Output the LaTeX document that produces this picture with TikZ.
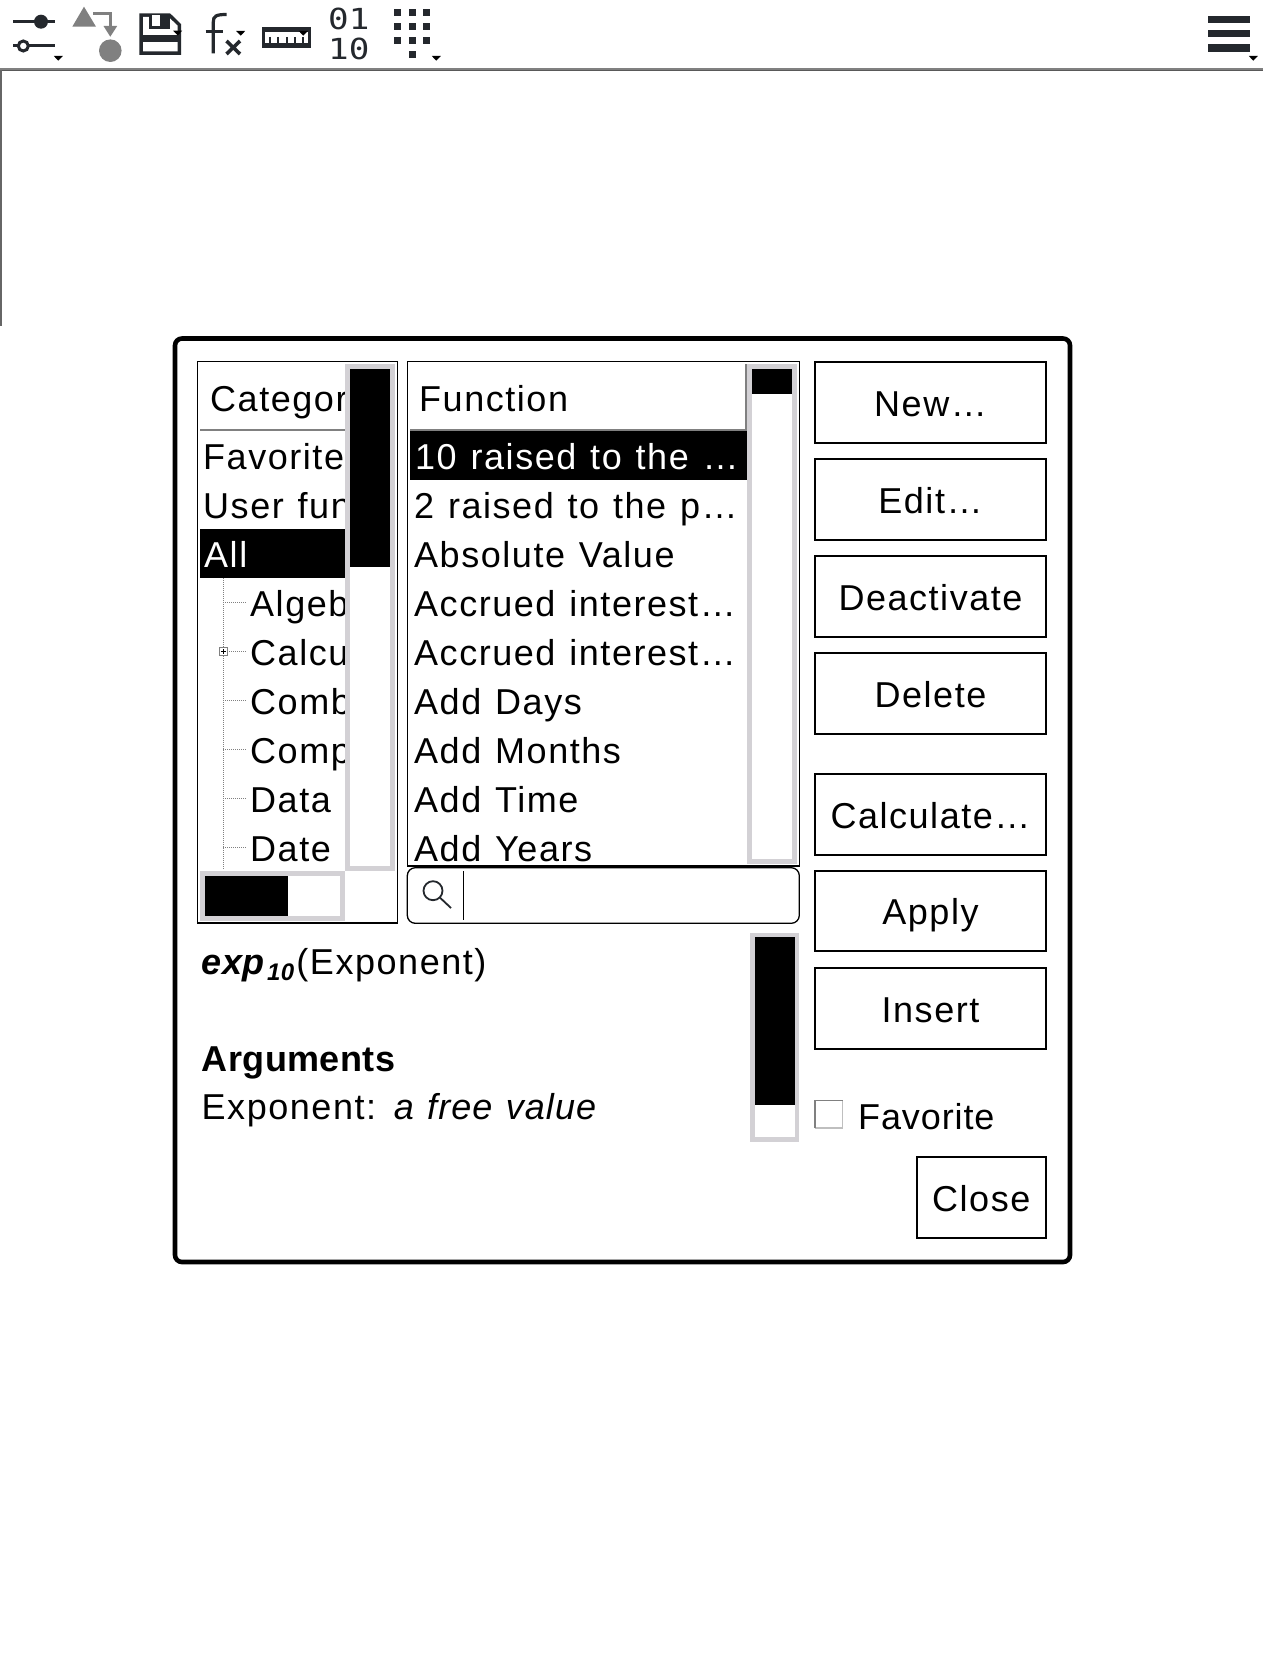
\documentclass[tikz,border=0pt]{standalone}
\usepackage{fontspec}
\setmainfont[LetterSpace=4.3,WordSpace=1.2]{Liberation Sans}
\newfontfamily\monoicon{DejaVu Sans Mono}
\usetikzlibrary{calc}
\definecolor{barGray}{HTML}{D3D1D5}
\definecolor{iconDark}{HTML}{24282D}
\definecolor{iconGray}{HTML}{808080}
\tikzset{
  rowtext/.style={anchor=base west,inner sep=0pt,font=\fontsize{36}{43}\selectfont},
  btnbox/.style={draw=black,line width=2pt,fill=white,minimum width=231pt,minimum height=80.6pt,inner sep=0pt,
    text height=27.8pt,text depth=0pt,font=\fontsize{36}{43}\selectfont},
  panelbox/.style={draw=black,line width=1.3pt},
  treeline/.style={draw=iconGray,line width=1pt,dash pattern=on 1pt off 1pt},
  icondark/.style={draw=iconDark,line width=3pt},
  icongray/.style={draw=iconGray,line width=3pt},
  bitstext/.style={anchor=base west,inner sep=0pt,text=iconDark,font=\monoicon\fontsize{29}{32}\selectfont}
}
\newcommand{\boldtight}{\addfontfeature{LetterSpace=1.3}}
\newcommand{\slanttight}{\addfontfeature{LetterSpace=3}}
\begin{document}
\begin{tikzpicture}[x=1pt,y=-1pt]
    \useasboundingbox (0,0) rectangle (1264,1680);
    \fill[white] (0,0) rectangle (1264,1680); % 白色背景

    % 工具栏
    \draw[iconGray,line width=2pt] (0,69.5) -- (1263,69.5); % 工具栏下边线
    \draw[black!65,line width=1pt] (0,71) -- (1263,71);
    \draw[black!60,line width=1.5pt] (1,70) -- (1,326); % 左边线
    \draw[icondark] (13,21.7) -- (55,21.7); % 滑块图标
    \fill[iconDark] (41,21.7) circle (7);
    \draw[icondark] (13,46) -- (55,46);
    \draw[icondark,fill=white] (23.3,46) circle (5);
    \fill[iconGray] (84,6.7) -- (96,26.7) -- (72.3,26.7) -- cycle; % 三角与圆图标
    \draw[icongray] (93.3,13.5) -- (110.3,13.5) -- (110.3,28);
    \fill[iconGray] (103.5,26) -- (117.2,26) -- (110.3,36.7) -- cycle;
    \fill[iconGray] (110.3,50.7) circle (11.3);
    \fill[iconDark] (139.3,13.3) -- (170,13.3) -- (181,24) -- (181,55) -- (139.3,55) -- cycle; % 保存图标
    \fill[white] (143,17) -- (168.5,17) -- (177.5,25.5) -- (177.5,51.5) -- (143,51.5) -- cycle;
    \fill[iconDark] (149,15) rectangle (170,29);
    \fill[white] (152,15) rectangle (160,26);
    \fill[iconDark] (143,35) rectangle (177.5,41.7);
    \fill[white] (149,41.7) rectangle (174,51.5);
    \draw[icondark,line width=3.2pt] (213.3,53.3) -- (213.3,22) .. controls (213.3,16) and (216,14.5) .. (226.7,14.5); % fx 图标
    \draw[icondark,line width=3pt] (205.7,31.7) -- (223,31.7);
    \draw[icondark,line width=3.6pt] (226.5,41) -- (240,54) (240,41) -- (226.5,54);
    \draw[icondark] (263.2,29) rectangle (309.2,46.2); % 标尺图标
    \fill[iconDark] (261.7,27.3) rectangle (310.7,32);
    \fill[iconDark] (261.7,43) rectangle (310.7,47.7);
    \foreach \tickx in {270,278.3,286.7,295,303.3} {
        \draw[iconDark,line width=1.8pt] (\tickx,37) -- (\tickx,43);
    }
    \node (bitstop) at (328,30) [bitstext] {\scalebox{1.18}[1]{01}}; % 二进制图标
    \node (bitsbot) at (328,59.3) [bitstext] {\scalebox{1.18}[1]{10}};
    \foreach \dotx in {397.3,412,426.3} {
        \foreach \doty in {12.7,26.7,40.7} {
            \fill[iconDark] (\dotx-3.5,\doty-3.5) rectangle (\dotx+3.5,\doty+3.5); % 点阵图标
        }
    }
    \fill[iconDark] (408.5,50.8) rectangle (415.5,57.8);
    \fill[iconDark] (1208,16) rectangle (1250,23.5); % 菜单图标
    \fill[iconDark] (1208,30) rectangle (1250,37.5);
    \fill[iconDark] (1208,44.3) rectangle (1250,51.7);
    \foreach \markx/\marky in {58.3/56,177.7/30.7,240.7/31,303.3/31,436.3/56,1253.3/56} {
        \fill[black] (\markx-4.5,\marky) -- (\markx+4.5,\marky) -- (\markx,\marky+4.7) -- cycle; % 下拉小三角
    }

    % 对话框
    \draw[black,line width=4.6pt,rounded corners=7pt] (175,338.5) rectangle (1070,1262);

    % 分类列表
    \draw[panelbox] (197.5,361.7) rectangle (397.5,923);
    \draw[iconGray,line width=1.3pt] (200,430) -- (345,430);
    \fill[black] (200,529) rectangle (345,578); % 选中行
    \node (cathead) at (210,411) [rowtext] {Categor};
    \node (catfav) at (203,469) [rowtext] {Favorites};
    \node (catuser) at (203,518) [rowtext] {User fun};
    \node (catall) at (204,567) [rowtext,text=white] {All};
    \foreach \rowy/\rowname/\rowtext in {616/alg/Algeb,665/cal/Calcu,714/cmb/Comb,763/cmp/Comp,812/dat/Data,861/dte/Date} {
        \node (cat\rowname) at (250,\rowy) [rowtext] {\rowtext};
    }
    \draw[treeline] (223.3,578) -- (223.3,870); % 树形虚线
    \foreach \branchy in {602.3,651.3,700,749,798,847} {
        \draw[treeline] (223.3,\branchy) -- (246,\branchy);
    }
    \draw[iconGray,fill=white,line width=1pt] (219.3,647.3) rectangle (227.3,655.3); % 展开按钮
    \draw[black,line width=1pt] (220.8,651.3) -- (225.8,651.3) (223.3,648.8) -- (223.3,653.8);
    \fill[barGray] (345,364) rectangle (395,870.7); % 竖直滚动条
    \fill[white] (350,369) rectangle (390,865.7);
    \fill[black] (350,369) rectangle (390,567);
    \fill[barGray] (200,871) rectangle (345,921); % 水平滚动条
    \fill[white] (205,876) rectangle (340,916);
    \fill[black] (205,876) rectangle (288,916);

    % 函数列表
    \draw[panelbox] (407.3,361.7) rectangle (799.3,866);
    \draw[iconGray,line width=1.3pt] (410,430) -- (746,430) -- (746,364);
    \fill[black] (410,431) rectangle (747,480); % 选中行
    \node (funhead) at (419,411) [rowtext] {Function};
    \node (funsel) at (415,469) [rowtext,text=white] {10 raised to the …};
    \node (funtwo) at (414,518) [rowtext] {2 raised to the p…};
    \node (funabs) at (414,567) [rowtext] {Absolute Value};
    \node (funacca) at (414,616) [rowtext] {Accrued interest…};
    \node (funaccb) at (414,665) [rowtext] {Accrued interest…};
    \node (fundays) at (414,714) [rowtext] {Add Days};
    \node (funmonths) at (414,763) [rowtext] {Add Months};
    \node (funtime) at (414,812) [rowtext] {Add Time};
    \node (funyears) at (414,861) [rowtext] {Add Years};
    \fill[barGray] (747,363.5) rectangle (797,864); % 竖直滚动条
    \fill[white] (752,369) rectangle (792,859);
    \fill[black] (752,369) rectangle (792,394);

    % 搜索框
    \draw[panelbox,rounded corners=8pt] (407.3,867.7) rectangle (799.3,923.3);
    \draw[iconDark,line width=1.8pt] (433,890.7) circle (9.5); % 放大镜
    \draw[iconDark,line width=1.8pt] (439.7,897.4) -- (451,908);
    \draw[black,line width=1.3pt] (463.3,871) -- (463.3,920); % 光标

    % 说明文字
    \node (funcsign) at (201.5,974) [rowtext] {{\boldtight\textbf{\textit{exp}}}\kern2pt\raisebox{-6pt}{\fontsize{24}{28}\selectfont\boldtight\textbf{\textit{10}}}\kern2pt(Exponent)};
    \node (arghead) at (201.5,1071.5) [rowtext] {{\boldtight\textbf{Arguments}}};
    \node (argline) at (201.5,1119.5) [rowtext] {Exponent: {\slanttight\textit{a free value}}};
    \fill[barGray] (750,933) rectangle (799,1142); % 竖直滚动条
    \fill[white] (755,937) rectangle (795,1137);
    \fill[black] (755,937) rectangle (795,1105);

    % 右侧按钮
    \foreach \btny/\btnname/\btntext in {402.4/new/New…,499.4/edit/Edit…,596.4/deact/Deactivate,693.4/del/Delete,814.3/calc/Calculate…,911/apply/Apply,1008.5/ins/Insert} {
        \node (btn\btnname) at (930.5,\btny) [btnbox] {\btntext};
    }
    \node (btnclose) at (981.3,1197.5) [btnbox,minimum width=129pt] {Close};
    \draw[black!25,line width=1.3pt] (842.5,1100.5) -- (842.5,1128) -- (815,1128); % 复选框
    \draw[black!50,line width=1.3pt] (815,1128) -- (815,1100.5) -- (842.5,1100.5);
    \node (favlabel) at (858,1129.5) [rowtext] {\addfontfeature{LetterSpace=2.5}Favorite};
\end{tikzpicture}
\end{document}
